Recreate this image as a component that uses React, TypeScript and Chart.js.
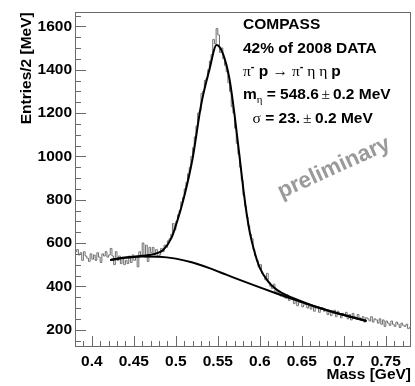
import React, { useEffect, useRef } from "react";
import { Chart, registerables } from "chart.js";
Chart.register(...registerables);

// ---------- data ----------
const BIN_START = 0.38; // GeV
const BIN_WIDTH = 0.002; // GeV (2 MeV bins)

const COUNTS = [
  560, 570, 545, 555, 520, 560, 540, 530, 515, 550,
  525, 545, 520, 555, 535, 510, 550, 540, 560, 535,
  545, 575, 540, 500, 560, 520, 540, 505, 535, 500,
  520, 505, 540, 510, 545, 520, 535, 490, 560, 540,
  600, 535, 590, 515, 580, 555, 580, 545, 570, 535,
  545, 575, 560, 590, 580, 610, 620, 640, 690, 660,
  700, 730, 750, 790, 810, 850, 880, 920, 950, 1000,
  1040, 1090, 1140, 1200, 1210, 1290, 1300, 1350, 1360, 1400,
  1440, 1470, 1540, 1520, 1590, 1560, 1480, 1500, 1450, 1420,
  1390, 1340, 1300, 1230, 1200, 1130, 1060, 1010, 950, 890,
  820, 770, 720, 680, 640, 620, 570, 540, 520, 490,
  500, 460, 450, 430, 460, 420, 400, 390, 410, 375,
  370, 380, 355, 365, 350, 345, 360, 335, 345, 340,
  320, 335, 310, 325, 330, 305, 315, 320, 300, 310,
  295, 310, 285, 300, 305, 280, 295, 300, 285, 290,
  270, 280, 265, 275, 290, 260, 285, 270, 255, 275,
  265, 280, 250, 270, 245, 275, 260, 250, 270, 255,
  245, 260, 235, 255, 250, 240, 260, 235, 250, 245,
  230, 250, 225, 245, 215, 240, 230, 220, 240, 225,
  215, 235, 225, 210, 230, 220, 215, 225, 205, 210,
];

const FIT_TOTAL_X = [0.422, 0.44, 0.46, 0.475, 0.485, 0.495, 0.5, 0.51, 0.52, 0.53, 0.54, 0.5486, 0.556, 0.564, 0.57, 0.576, 0.582, 0.588, 0.594, 0.6, 0.61, 0.62, 0.64, 0.66, 0.68, 0.7, 0.727];
const FIT_TOTAL_Y = [522, 533, 541, 550, 568, 625, 680, 815, 990, 1235, 1400, 1514, 1475, 1355, 1190, 995, 800, 650, 555, 485, 422, 385, 345, 315, 290, 268, 240];

const FIT_BG_X = [0.422, 0.44, 0.46, 0.48, 0.5, 0.52, 0.54, 0.56, 0.58, 0.6, 0.62, 0.64, 0.66, 0.68, 0.7, 0.727];
const FIT_BG_Y = [522, 532, 538, 537, 528, 510, 484, 454, 424, 395, 367, 340, 314, 290, 268, 240];

const X_TICKS = [0.4, 0.45, 0.5, 0.55, 0.6, 0.65, 0.7, 0.75];
const X_TICK_LABELS = ["0.4", "0.45", "0.5", "0.55", "0.6", "0.65", "0.7", "0.75"];
const X_MINOR_STEP = 0.01;
const Y_TICKS = [200, 400, 600, 800, 1000, 1200, 1400, 1600];
const Y_TICK_LABELS = ["200", "400", "600", "800", "1000", "1200", "1400", "1600"];
const Y_MINOR_STEP = 50;

const X_TITLE = "Mass [GeV]";
const Y_TITLE = "Entries/2 [MeV]";

// ---------- styling ----------
const SANS = '"Liberation Sans", Arial, sans-serif';
const SERIF = '"Liberation Serif", "DejaVu Serif", serif';
const AXIS_FONT_SIZE = 15.5;
const TEXT_SIZE = 15.5;
const AXIS_COLOR = "#6a6a6a";

type Run = { t: string; f: string; dy?: number; dx?: number };

function drawRuns(ctx: CanvasRenderingContext2D, x: number, y: number, runs: Run[]) {
  let cx = x;
  for (const r of runs) {
    cx += r.dx || 0;
    ctx.font = r.f;
    ctx.fillText(r.t, cx, y + (r.dy || 0));
    cx += ctx.measureText(r.t).width;
  }
}

const overlayPlugin = {
  id: "rootStyle",
  afterDatasetsDraw(chart: any) {
    const { ctx, chartArea } = chart;
    const xs = chart.scales.x;
    const ys = chart.scales.y;
    const { left, right, top, bottom } = chartArea;
    ctx.save();
    // frame
    ctx.strokeStyle = AXIS_COLOR;
    ctx.lineWidth = 1;
    ctx.strokeRect(Math.round(left) + 0.5, Math.round(top) + 0.5, Math.round(right - left) - 1, Math.round(bottom - top) - 1);
    // x ticks (inside, going up from bottom axis)
    ctx.beginPath();
    const nx = Math.round((xs.max - xs.min) / X_MINOR_STEP);
    for (let i = 1; i < nx; i++) {
      const v = xs.min + i * X_MINOR_STEP;
      const px = Math.round(xs.getPixelForValue(v)) + 0.5;
      const major = X_TICKS.some((t) => Math.abs(t - v) < 1e-6);
      const len = major ? 10 : 5;
      ctx.moveTo(px, bottom - 1);
      ctx.lineTo(px, bottom - 1 - len);
    }
    // y ticks (inside, going right from left axis)
    const y0 = Math.ceil(ys.min / Y_MINOR_STEP) * Y_MINOR_STEP;
    for (let v = y0; v < ys.max; v += Y_MINOR_STEP) {
      const py = Math.round(ys.getPixelForValue(v)) + 0.5;
      const major = Y_TICKS.includes(v);
      const len = major ? 10 : 5;
      ctx.moveTo(left + 1, py);
      ctx.lineTo(left + 1 + len, py);
    }
    ctx.stroke();

    // axis titles
    ctx.fillStyle = "#000";
    ctx.font = `bold ${AXIS_FONT_SIZE}px ${SANS}`;
    ctx.textAlign = "right";
    ctx.textBaseline = "alphabetic";
    ctx.fillText(X_TITLE, right, 379);
    ctx.save();
    ctx.translate(31, top);
    ctx.rotate(-Math.PI / 2);
    ctx.textAlign = "right";
    ctx.fillText(Y_TITLE, 0, 0);
    ctx.restore();

    // text block
    ctx.textAlign = "left";
    const B = `bold ${TEXT_SIZE}px ${SANS}`;
    const G = `${TEXT_SIZE}px ${SERIF}`;
    const Gs = `${TEXT_SIZE * 0.7}px ${SERIF}`;
    const Bs = `bold ${TEXT_SIZE * 0.7}px ${SANS}`;
    const tx = 243;
    drawRuns(ctx, tx, 28.5, [{ t: "COMPASS", f: B }]);
    drawRuns(ctx, tx, 52.5, [{ t: "42% of 2008 DATA", f: B }]);
    drawRuns(ctx, tx, 75.5, [
      { t: "π", f: G },
      { t: "-", f: Bs, dy: -6 },
      { t: " p ", f: B },
      { t: "→", f: G },
      { t: " π", f: G },
      { t: "-", f: Bs, dy: -6 },
      { t: " η η ", f: G },
      { t: "p", f: B },
    ]);
    drawRuns(ctx, tx, 98.5, [
      { t: "m", f: B },
      { t: "η", f: Gs, dy: 4 },
      { t: " = 548.6", f: B },
      { t: "±", f: G, dx: 2.5 },
      { t: "0.2 MeV", f: B, dx: 3 },
    ]);
    drawRuns(ctx, 252.5, 122.5, [
      { t: "σ", f: G },
      { t: " = 23.", f: B },
      { t: "±", f: G, dx: 3 },
      { t: "0.2 MeV", f: B, dx: 3.5 },
    ]);

    // watermark
    ctx.save();
    ctx.translate(334, 168);
    ctx.rotate(-24.5 * Math.PI / 180);
    ctx.fillStyle = "#9a9a9a";
    ctx.font = `bold 22.5px ${SANS}`;
    ctx.textAlign = "center";
    ctx.textBaseline = "middle";
    ctx.fillText("preliminary", 0, 0);
    ctx.restore();

    ctx.restore();
  },
};

export default function App() {
  const ref = useRef<HTMLCanvasElement>(null);
  useEffect(() => {
    const canvas = ref.current!;
    const hist = COUNTS.map((c, i) => ({ x: BIN_START + BIN_WIDTH * (i + 0.5), y: c }));
    const total = FIT_TOTAL_X.map((x, i) => ({ x, y: FIT_TOTAL_Y[i] }));
    const bg = FIT_BG_X.map((x, i) => ({ x, y: FIT_BG_Y[i] }));
    const tickFont = { family: SANS, size: AXIS_FONT_SIZE, weight: "bold" as const };
    const chart = new Chart(canvas, {
      type: "line",
      data: {
        datasets: [
          { data: total, borderColor: "#000", borderWidth: 2, pointRadius: 0, cubicInterpolationMode: "monotone", fill: false, order: 1 },
          { data: bg, borderColor: "#000", borderWidth: 2, pointRadius: 0, cubicInterpolationMode: "monotone", fill: false, order: 2 },
          { data: hist, borderColor: "#6e6e6e", borderWidth: 1, pointRadius: 0, stepped: "middle", fill: false, order: 3 },
        ],
      },
      options: {
        responsive: false,
        animation: false,
        events: [],
        layout: { padding: { left: 0, right: 4, top: 5, bottom: 0 } },
        plugins: { legend: { display: false }, tooltip: { enabled: false } },
        scales: {
          x: {
            type: "linear",
            min: 0.38,
            max: 0.78,
            grid: { display: false, drawTicks: false },
            border: { display: false },
            afterBuildTicks: (s: any) => { s.ticks = X_TICKS.map((v) => ({ value: v })); },
            afterFit: (s: any) => { s.height = 39; },
            ticks: {
              padding: 5,
              color: "#000",
              font: tickFont,
              maxRotation: 0,
              autoSkip: false,
              callback: (_v: any, i: number) => X_TICK_LABELS[i],
            },
          },
          y: {
            type: "linear",
            min: 120,
            max: 1665,
            grid: { display: false, drawTicks: false },
            border: { display: false },
            afterBuildTicks: (s: any) => { s.ticks = Y_TICKS.map((v) => ({ value: v })); },
            afterFit: (s: any) => { s.width = 75; },
            ticks: {
              padding: 3,
              color: "#000",
              font: tickFont,
              autoSkip: false,
              callback: (_v: any, i: number) => Y_TICK_LABELS[i],
            },
          },
        },
      },
      plugins: [overlayPlugin],
    });
    return () => chart.destroy();
  }, []);
  return (
    <div style={{ position: "fixed", left: 0, top: 0, width: 415, height: 386, background: "#fff" }}>
      <canvas ref={ref} width={415} height={386} style={{ display: "block" }} />
    </div>
  );
}
